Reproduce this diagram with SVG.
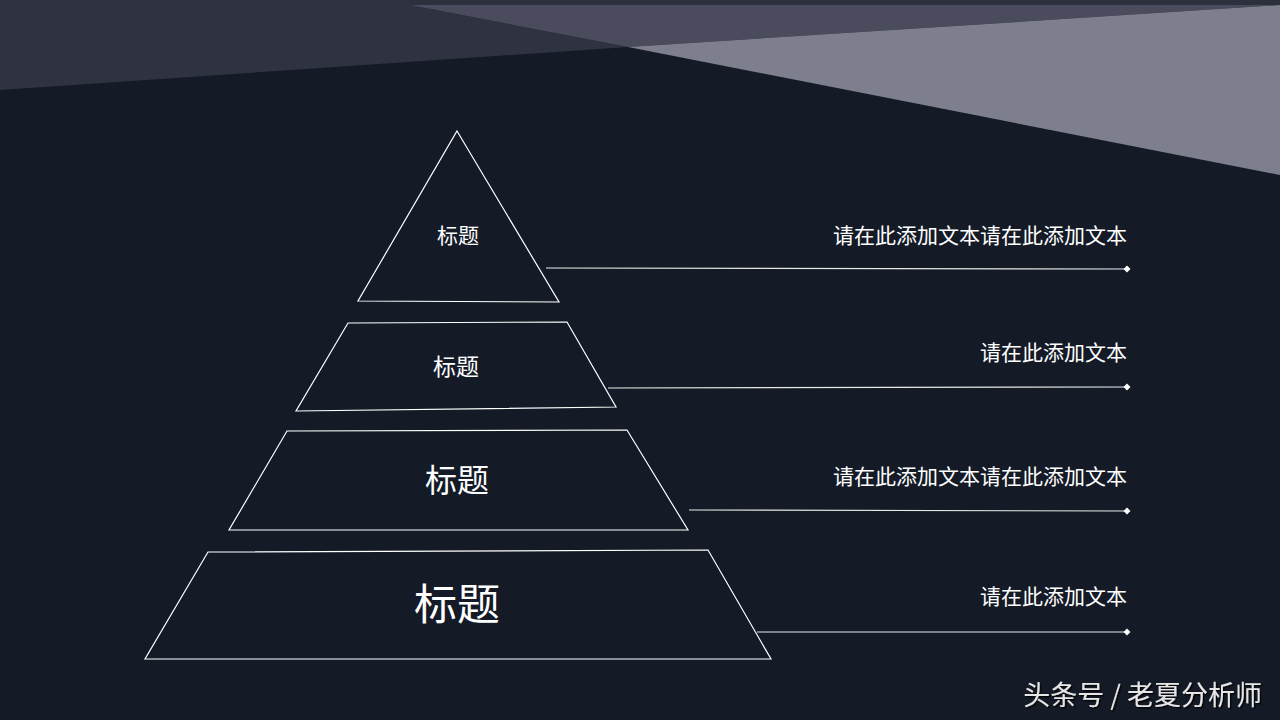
<svg xmlns="http://www.w3.org/2000/svg" width="1280" height="720" viewBox="0 0 1280 720">
<defs>
<style>
.shape{fill:none;stroke:#ffffff;stroke-width:1.2;stroke-linejoin:miter}
.lbl{fill:#ffffff;font-family:"Noto Sans CJK SC","Noto Sans",sans-serif;text-anchor:middle}
.desc{fill:#ffffff;font-family:"Noto Sans CJK SC","Noto Sans",sans-serif;font-size:21px;text-anchor:end}
.conn{stroke:#e8e8e8;stroke-width:1.2;fill:none}
.dot{fill:#ffffff}
.wm{fill:#e6e6e6;font-family:"Noto Sans CJK SC","Noto Sans",sans-serif;font-size:27px;text-anchor:end}
</style>
<filter id="sh" x="-10%" y="-10%" width="120%" height="140%">
<feDropShadow dx="1.5" dy="1.5" stdDeviation="0.6" flood-color="#000000" flood-opacity="0.8"/>
</filter>
</defs>
<rect width="1280" height="720" fill="#141b27"/>
<g id="background">
<polygon points="0,0 1280,0 1280,5 410,5 628,47 0,90" fill="#2f3241"/>
<polygon points="410,5 1280,5 628,47" fill="#4a4b5d"/>
<polygon points="628,47 1280,5 1280,175" fill="#7d7e8e"/>
<rect x="410" y="0" width="870" height="5" fill="#2c2f3c"/>
</g>
<g id="level1">
<polygon class="shape" points="457,131 559,302 358,301"/>
<text class="lbl" x="458" y="243" font-size="21">标题</text>
</g>
<g id="level2">
<polygon class="shape" points="348,323 567,322 616,407 296,411"/>
<text class="lbl" x="456" y="375" font-size="23">标题</text>
</g>
<g id="level3">
<polygon class="shape" points="287,431 627,430 688,530 229,530"/>
<text class="lbl" x="457" y="492" font-size="32">标题</text>
</g>
<g id="level4">
<polygon class="shape" points="208,552 708,550 771,659 145,659"/>
<text class="lbl" x="457" y="620" font-size="43">标题</text>
</g>
<g id="connectors">
<line class="conn" x1="546" y1="268" x2="1127" y2="269"/>
<line class="conn" x1="608" y1="388" x2="1127" y2="387"/>
<line class="conn" x1="689" y1="510" x2="1127" y2="511"/>
<line class="conn" x1="757" y1="632" x2="1127" y2="632"/>
<polygon class="dot" points="1127,265.5 1130.5,269 1127,272.5 1123.5,269"/>
<polygon class="dot" points="1127,383.5 1130.5,387 1127,390.5 1123.5,387"/>
<polygon class="dot" points="1127,507.5 1130.5,511 1127,514.5 1123.5,511"/>
<polygon class="dot" points="1127,628.5 1130.5,632 1127,635.5 1123.5,632"/>
</g>
<g id="descriptions">
<text class="desc" x="1127" y="243">请在此添加文本请在此添加文本</text>
<text class="desc" x="1127" y="360">请在此添加文本</text>
<text class="desc" x="1127" y="484">请在此添加文本请在此添加文本</text>
<text class="desc" x="1127" y="604">请在此添加文本</text>
</g>
<g id="watermark">
<text class="wm" x="1262" y="705" filter="url(#sh)">头条号 / 老夏分析师</text>
</g>
</svg>
